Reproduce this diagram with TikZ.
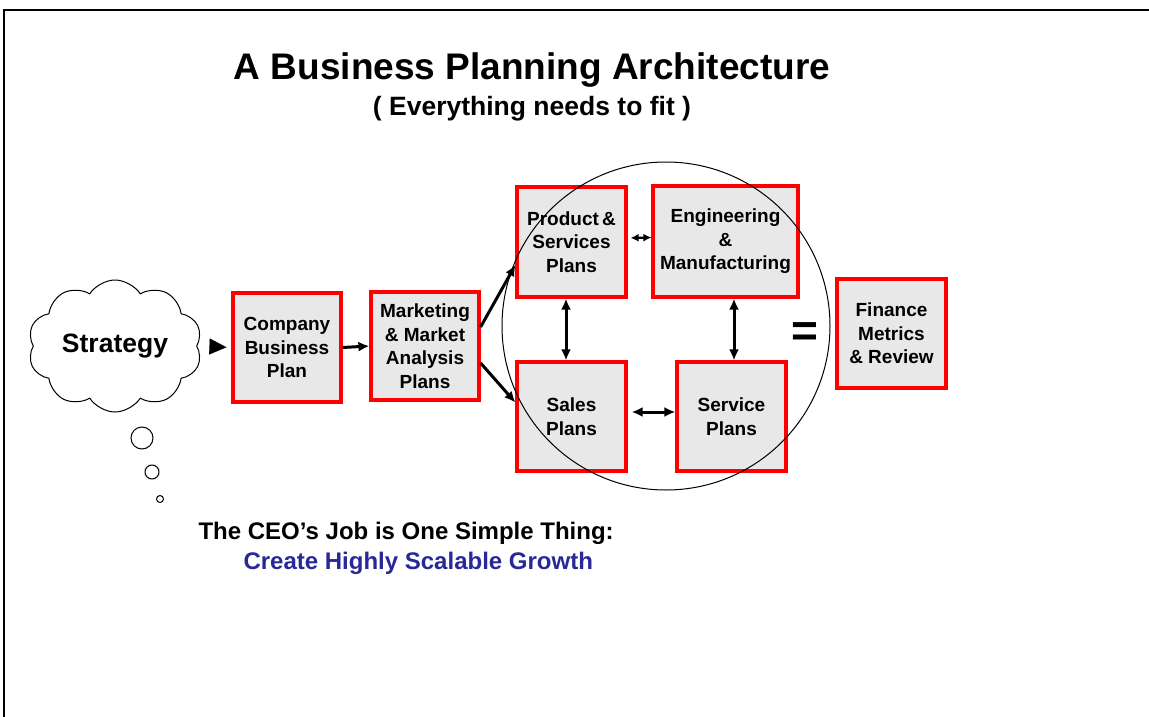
\documentclass[tikz,border=0pt]{standalone}
\usepackage{fontspec}
\setmainfont{Liberation Sans}
\usetikzlibrary{shapes.symbols,arrows.meta}
\definecolor{boxgray}{RGB}{232,232,232}
\definecolor{ceoblue}{RGB}{40,40,150}
\tikzset{
  planbox/.style={draw=red, line width=3.2pt, fill=boxgray, align=center,
    font=\fontsize{19}{23.5}\selectfont\bfseries, inner sep=0pt},
  conn/.style={line width=3pt, -{Latex[length=11pt,width=10pt]}},
  biconn/.style={line width=3pt, {Latex[length=11pt,width=10pt]}-{Latex[length=11pt,width=10pt]}},
  bubble/.style={draw, line width=1pt, fill=white}
}
\begin{document}
\begin{tikzpicture}[x=1pt,y=-1pt]
\useasboundingbox (0,0) rectangle (1149,717);
% frame
\draw[line width=2.2pt] (1149,10) -- (4,10) -- (4,717);
% title
\node[font=\fontsize{37}{40}\selectfont\bfseries] (title) at (532,70) {A Business Planning Architecture};
\node[font=\fontsize{26.5}{28}\selectfont\bfseries] (subtitle) at (532,109) {( Everything needs to fit )};
% cloud
\node[cloud, draw, cloud puffs=10, cloud puff arc=115, aspect=1.5, line width=1pt,
  minimum width=174pt, minimum height=132pt, fill=white,
  font=\fontsize{26.5}{30}\selectfont\bfseries] (cloud) at (115,346) {Strategy};
\node[bubble, circle, minimum size=22pt, inner sep=0pt] (b1) at (142,438) {};
\node[bubble, circle, minimum size=14pt, inner sep=0pt] (b2) at (152,472) {};
\node[bubble, circle, minimum size=7pt, inner sep=0pt] (b3) at (160,499) {};
% boxes
\node[planbox, minimum width=108pt, minimum height=109pt] (company) at (287,347.5) {Company\\Business\\Plan};
\node[planbox, minimum width=108pt, minimum height=108pt] (marketing) at (425,346) {Marketing\\\& Market\\Analysis\\Plans};
\node[planbox, minimum width=109pt, minimum height=110pt] (product) at (571.5,242) {Product\,\&\\Services\\Plans};
\node[planbox, minimum width=145pt, minimum height=111pt] (engineering) at (725.5,241.5) {Engineering\\\&\\Manufacturing};
\node[planbox, minimum width=109pt, minimum height=109pt] (sales) at (571.5,416.5) {Sales\\Plans};
\node[planbox, minimum width=109pt, minimum height=109pt] (service) at (731.5,416.5) {Service\\Plans};
\node[planbox, minimum width=109pt, minimum height=109pt] (finance) at (891.5,333.5) {Finance\\Metrics\\\& Review};
\node[font=\fontsize{46}{46}\selectfont\bfseries] (equals) at (805,335) {=};
% circle drawn over the boxes
\node[draw, circle, line width=1pt, minimum size=328pt, inner sep=0pt] (ring) at (666,326) {};
% connectors
\draw[white, line width=0.1pt, -{Triangle[length=17pt,width=16pt,color=black]}, shorten >=5pt] (cloud.east) -- (company.west);
\draw[conn] (company.east) -- (marketing.west);
\draw[conn] ([yshift=19pt]marketing.east) -- ([yshift=-23pt]product.west);
\draw[conn] ([yshift=-17pt]marketing.east) -- ([yshift=14pt]sales.west);
\draw[line width=2.2pt, {Latex[length=8pt,width=8pt]}-{Latex[length=8pt,width=8pt]}, shorten <=3pt] ([yshift=4pt]product.east) -- ([yshift=4pt]engineering.west);
\draw[biconn] ([xshift=-5.5pt]product.south) -- ([xshift=-5.5pt]sales.north);
\draw[biconn] ([xshift=8.5pt]engineering.south) -- ([xshift=2.5pt]service.north);
\draw[biconn, shorten <=4pt] ([yshift=4.5pt]sales.east) -- ([yshift=4.5pt]service.west);
% CEO text
\node[anchor=west, font=\fontsize{24}{26}\selectfont\bfseries] (ceo) at (195,533) {The CEO’s Job is One Simple Thing:};
\node[anchor=west, text=ceoblue, font=\fontsize{24}{26}\selectfont\bfseries] (growth) at (240,563) {Create Highly Scalable Growth};
\end{tikzpicture}
\end{document}
